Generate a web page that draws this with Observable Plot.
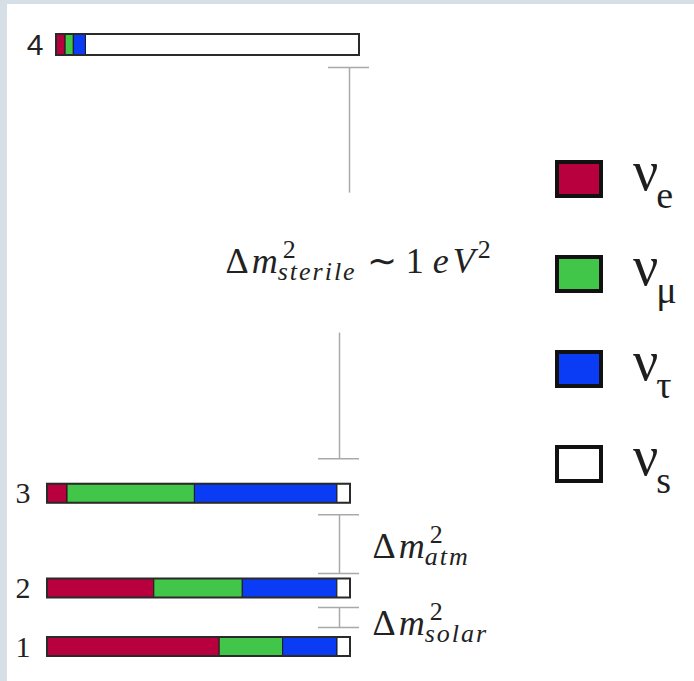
<!DOCTYPE html>
<html>
<head>
<meta charset="utf-8">
<script src="https://cdn.jsdelivr.net/npm/d3@7"></script>
<script src="https://cdn.jsdelivr.net/npm/@observablehq/plot@0.6"></script>
<style>
  html, body { margin: 0; padding: 0; background: #fff; }
  #wrap { position: relative; width: 694px; height: 681px; overflow: hidden; }
  #chart { position: absolute; left: 0; top: 0; }
  .edge { position: absolute; background: #d5dfe5; z-index: 2; }
  #legend { position: absolute; left: 555px; top: 160px; z-index: 3; color: #1e1e1e; }
  .item { position: absolute; left: 0; width: 139px; height: 40px; }
  .swatch { position: absolute; left: 0; top: 0; width: 48px; height: 38px;
            box-sizing: border-box; border: 4px solid #111; }
  .lab { position: absolute; left: 78px; top: -17px; font-family: 'Liberation Serif', serif;
         font-size: 56px; line-height: 1; white-space: nowrap; }
  .lab .sub { font-size: 38px; position: relative; top: 18px; margin-left: -2px; }
</style>
</head>
<body>
<div id="wrap">
  <div id="chart"></div>
  <div class="edge" style="left:0;top:0;width:7px;height:681px"></div>
  <div class="edge" style="left:0;top:0;width:694px;height:4px"></div>
  <div id="legend"></div>
</div>
<script>
// Mass eigenstates, bottom to top, with their schematic (not to scale) levels
const stateLabels = ["1", "2", "3", "4"];
const stateLevel = [0, 1, 2.62, 10.29];

// Flavour content of each mass state
const flavorNames = ["e", "μ", "τ", "s"];
const flavorColors = ["#b8003e", "#41c64a", "#0a3cf5", "#ffffff"];
const shareE   = [0.57, 0.35, 0.066, 0.03];
const shareMu  = [0.21, 0.29, 0.42, 0.027];
const shareTau = [0.18, 0.31, 0.47, 0.04];
const shareS   = [0.043, 0.043, 0.043, 0.90];

// Mass splittings between neighbouring states
const gapNames  = ["sterile", "atm", "solar"];
const gapLower  = ["3", "2", "1"];
const gapUpper  = ["4", "3", "2"];
const gapValue  = ["∼ 1 ", null, null];
const gapUnit   = ["eV", null, null];

// ---- layout (pixels) ----
const W = 694, H = 681;
const margin = {top: 44.5, right: 344, bottom: 34.5, left: 47};
const barPx = W - margin.left - margin.right;
const unitPx = (H - margin.top - margin.bottom) / d3.max(stateLevel);
const px2x = p => p / barPx;
const px2y = p => p / unitPx;
const halfLow = px2y(9.5), halfHigh = px2y(10.5);   // half thickness of the bars
const highShift = 9;                                // the sterile state is drawn a little to the right
const serif = "'Liberation Serif', serif";
const sans = "'Liberation Sans', sans-serif";

// caps kept clear of the bars; sterile line is broken around its label
const gapLayout = [
  {top: 12,   bottom: 25.5, shift: 10, gap: 70, labelX: -125, labelY: 9.5},
  {top: 11.5, bottom: 5.5,  shift: 0,  gap: 0,  labelX: 22,   labelY: 13.5},
  {top: 9.5,  bottom: 10,   shift: 0,  gap: 0,  labelX: 22,   labelY: 18}
];
const lineX = -11, capFrom = -32, capTo = 9;

// ---- tables ----
const shares = [shareE, shareMu, shareTau, shareS];
const segments = [];
stateLabels.forEach((s, i) => {
  const vals = shares.map(a => a[i]);
  const total = d3.sum(vals);
  let acc = 0;
  vals.forEach((v, j) => {
    segments.push({state: s, level: stateLevel[i], flavor: flavorNames[j], x1: acc / total, x2: (acc + v) / total});
    acc += v;
  });
});
const bars = stateLabels.map((s, i) => ({state: s, level: stateLevel[i]}));
const levelOf = s => stateLevel[stateLabels.indexOf(s)];
const halfOf = s => (s === "4" ? halfHigh : halfLow);

const gaps = gapNames.map((name, i) => {
  const L = gapLayout[i];
  const up = levelOf(gapUpper[i]), lo = levelOf(gapLower[i]);
  const capTop = up - halfOf(gapUpper[i]) - px2y(L.top);
  const capBottom = lo + halfOf(gapLower[i]) + px2y(L.bottom);
  const mid = (capTop + capBottom) / 2;
  return {name, capTop, capBottom, mid, L};
});

// vertical pieces of each splitting line, and their end caps
const lines = [];
const caps = [];
gaps.forEach(g => {
  const L = g.L;
  if (L.gap) {
    lines.push({x: 1 + px2x(lineX + L.shift), y1: g.capTop, y2: g.mid + px2y(L.gap)});
    lines.push({x: 1 + px2x(lineX), y1: g.mid - px2y(L.gap), y2: g.capBottom});
  } else {
    lines.push({x: 1 + px2x(lineX), y1: g.capTop, y2: g.capBottom});
  }
  caps.push({y: g.capTop, x1: 1 + px2x(capFrom + L.shift), x2: 1 + px2x(capTo + L.shift)});
  caps.push({y: g.capBottom, x1: 1 + px2x(capFrom), x2: 1 + px2x(capTo)});
});
const labels = gaps.map(g => ({x: 1 + px2x(g.L.labelX), y: g.mid - px2y(g.L.labelY), name: g.name}));

const isHigh = d => d.state === "4";
const lineColor = "#a9a9a9";

const plot = Plot.plot({
  width: W, height: H,
  marginTop: margin.top, marginRight: margin.right, marginBottom: margin.bottom, marginLeft: margin.left,
  x: {domain: [0, 1], axis: null},
  y: {domain: [0, d3.max(stateLevel)], axis: null},
  color: {domain: flavorNames, range: flavorColors},
  style: {background: "transparent", overflow: "visible"},
  marks: [
    // flavour segments
    Plot.rect(segments.filter(d => !isHigh(d)), {
      x1: "x1", x2: "x2", y1: d => d.level - halfLow, y2: d => d.level + halfLow,
      fill: "flavor", stroke: "#1a1a1a", strokeWidth: 1
    }),
    Plot.rect(segments.filter(isHigh), {
      x1: "x1", x2: "x2", y1: d => d.level - halfHigh, y2: d => d.level + halfHigh,
      fill: "flavor", stroke: "#1a1a1a", strokeWidth: 1, dx: highShift
    }),
    // bar outlines
    Plot.rect(bars.filter(d => !isHigh(d)), {
      x1: d => 0, x2: d => 1, y1: d => d.level - halfLow, y2: d => d.level + halfLow,
      fill: "none", stroke: "#2a2a2a", strokeWidth: 2
    }),
    Plot.rect(bars.filter(isHigh), {
      x1: d => 0, x2: d => 1, y1: d => d.level - halfHigh, y2: d => d.level + halfHigh,
      fill: "none", stroke: "#2a2a2a", strokeWidth: 2, dx: highShift
    }),
    // state numbers
    Plot.text(bars.filter(d => !isHigh(d)), {
      x: d => 0, y: "level", text: "state", textAnchor: "end", dx: -17,
      fontFamily: serif, fontSize: 30, fill: "#222"
    }),
    Plot.text(bars.filter(isHigh), {
      x: d => 0, y: "level", text: "state", textAnchor: "end", dx: -4,
      fontFamily: sans, fontSize: 30, fill: "#222"
    }),
    // splitting brackets
    Plot.ruleX(lines, {x: "x", y1: "y1", y2: "y2", stroke: lineColor, strokeWidth: 1.5}),
    Plot.ruleY(caps, {y: "y", x1: "x1", x2: "x2", stroke: lineColor, strokeWidth: 1.5}),
    Plot.text(labels, {
      x: "x", y: "y", text: d => "Δm2" + d.name, textAnchor: "start", lineAnchor: "bottom",
      fontFamily: serif, fontSize: 36, fill: "#222"
    })
  ]
});

// typeset the splitting labels: Δm with superscript 2 and a subscript name
const SCRIPT = 26;
d3.select(plot).selectAll("text").each(function () {
  const i = gapNames.findIndex(n => this.textContent === "Δm2" + n);
  if (i < 0) return;
  const t = d3.select(this).text(null);
  t.append("tspan").text("Δ");
  t.append("tspan").attr("font-style", "italic").attr("dx", 3).text("m");
  t.append("tspan").attr("font-size", SCRIPT).attr("dx", 5).attr("dy", -15).text("2");
  t.append("tspan").attr("font-size", SCRIPT).attr("font-style", "italic")
    .attr("letter-spacing", 2).attr("dx", -(SCRIPT * 0.5 + 5)).attr("dy", 22).text(gapNames[i]);
  if (gapValue[i]) {
    t.append("tspan").attr("dx", 10).attr("dy", -7).text(gapValue[i]);
    t.append("tspan").attr("font-style", "italic").attr("letter-spacing", 4).text(gapUnit[i]);
    t.append("tspan").attr("font-size", SCRIPT).attr("dx", -1).attr("dy", -15).text("2");
  }
});

document.getElementById("chart").append(plot);

// flavour legend, coloured through the plot's own colour scale
const colorScale = plot.scale("color");
const legend = d3.select("#legend");
flavorNames.forEach((f, j) => {
  const row = legend.append("div").attr("class", "item").style("top", `${j * 95}px`);
  row.append("div").attr("class", "swatch").style("background", colorScale.apply(f));
  const lab = row.append("div").attr("class", "lab");
  lab.append("span").text("ν");
  lab.append("span").attr("class", "sub").text(f);
});
</script>
</body>
</html>
